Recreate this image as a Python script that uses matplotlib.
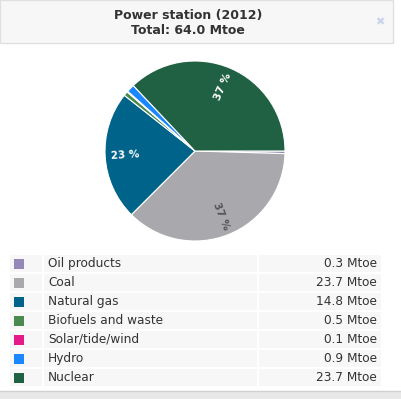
import matplotlib
matplotlib.use("Agg")
import matplotlib.pyplot as plt
from matplotlib.patches import Rectangle
import numpy as np

title = "Power station (2012)"
unit = "Mtoe"
sources = ["Oil products", "Coal", "Natural gas", "Biofuels and waste",
           "Solar/tide/wind", "Hydro", "Nuclear"]
values = [0.3, 23.7, 14.8, 0.5, 0.1, 0.9, 23.7]
colors = ["#9388b8", "#a9a9ad", "#00648a", "#4a8a50",
          "#e6198b", "#1a86ff", "#1f6142"]

W, H = 401, 399
fig = plt.figure(figsize=(W / 100, H / 100), dpi=100)
fig.patch.set_facecolor("white")

# background axes in pixel coordinates for header and table
bg = fig.add_axes([0, 0, 1, 1])
bg.set_xlim(0, W)
bg.set_ylim(H, 0)
bg.axis("off")

# header panel
bg.add_patch(Rectangle((0, 0), 393, 43, facecolor="#f7f7f7",
                       edgecolor="#e0e0e0", linewidth=1))
total = sum(values)
bg.text(188, 15, title, ha="center", va="center", fontsize=9,
        fontweight="bold", color="#333333")
bg.text(188, 30, f"Total: {total:.1f} {unit}", ha="center", va="center",
        fontsize=9, fontweight="bold", color="#333333")
bg.text(380, 22, "\u2716", ha="center", va="center", fontsize=8,
        color="#c8d5ea")

# legend table
row_top = 255
row_step = 19
row_h = 17
for i, (name, val, col) in enumerate(zip(sources, values, colors)):
    y0 = row_top + i * row_step
    yc = y0 + row_h / 2
    bg.add_patch(Rectangle((10, y0), 32, row_h, facecolor="#f7f7f7",
                           edgecolor="none"))
    bg.add_patch(Rectangle((44, y0), 213, row_h, facecolor="#f7f7f7",
                           edgecolor="none"))
    bg.add_patch(Rectangle((259, y0), 122, row_h, facecolor="#f7f7f7",
                           edgecolor="none"))
    bg.add_patch(Rectangle((14, yc - 5), 10, 10, facecolor=col,
                           edgecolor="none"))
    bg.text(48, yc, name, ha="left", va="center", fontsize=8.7,
            color="#333333")
    bg.text(377, yc, f"{val:.1f} {unit}", ha="right", va="center",
            fontsize=8.7, color="#333333")

# bottom bar
bg.add_patch(Rectangle((0, 391), W, 8, facecolor="#e8e8e8",
                       edgecolor="none"))
bg.plot([0, W], [391, 391], color="#d0d0d0", linewidth=1)

# pie
cx, cy, r = 195, 151, 90
ax = fig.add_axes([(cx - r) / W, (H - cy - r) / H, 2 * r / W, 2 * r / H])
wedges, _ = ax.pie(values, colors=colors, startangle=0, counterclock=False,
                   radius=1, wedgeprops=dict(edgecolor="white", linewidth=0.8))
ax.set_xlim(-1, 1)
ax.set_ylim(-1, 1)
ax.set_aspect("equal")
ax.axis("off")

for w, val in zip(wedges, values):
    pct = val / total * 100
    if pct < 5:
        continue
    mid = (w.theta1 + w.theta2) / 2
    rad = np.deg2rad(mid)
    rot = ((mid + 180) % 360) - 180
    if rot > 90:
        rot -= 180
    elif rot < -90:
        rot += 180
    light = w.get_facecolor()[0] > 0.5
    ax.text(0.78 * np.cos(rad), 0.78 * np.sin(rad), f"{pct:.0f} %",
            ha="center", va="center", rotation=rot, rotation_mode="anchor",
            fontsize=7.5, fontweight="bold",
            color="#555555" if light else "white")

fig.savefig("out.png", dpi=100)
